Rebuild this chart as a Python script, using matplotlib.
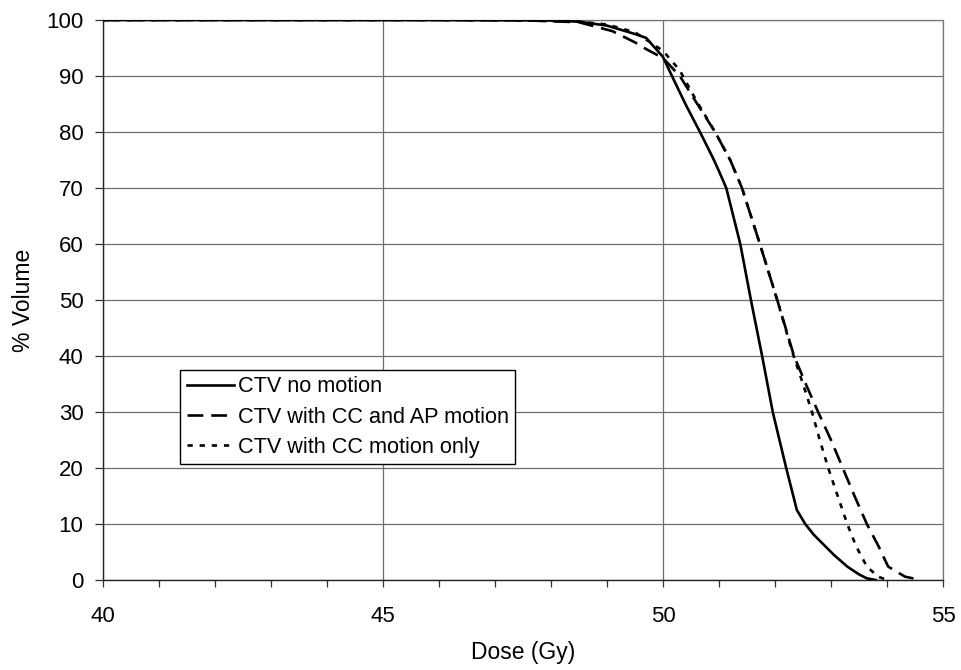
import matplotlib
matplotlib.use("Agg")
import matplotlib.pyplot as plt
from matplotlib.ticker import MultipleLocator

plt.rcParams['font.family'] = ['Liberation Sans', 'DejaVu Sans']

# CTV no motion
dose_a = [40, 46, 47.5, 48.0, 48.5, 49.0, 49.5, 49.7, 50.0, 50.16, 50.4, 50.66, 50.9,
          51.0, 51.13, 51.23, 51.38, 51.57, 51.77, 51.96, 52.08, 52.20, 52.39, 52.54,
          52.7, 52.84, 53.05, 53.29, 53.5, 53.64, 53.8]
vol_a = [100, 100, 99.95, 99.9, 99.7, 99.0, 97.5, 96.8, 93.4, 90, 85, 80, 75.2,
         73, 70, 66, 60, 50, 40, 30, 25, 20, 12.5, 10,
         8, 6.6, 4.5, 2.4, 1, 0.3, 0]

# CTV with CC and AP motion
dose_b = [40, 46, 47.5, 48.5, 49.1, 49.5, 49.7, 50.0, 50.3, 50.6, 50.93, 51.2, 51.41,
          51.73, 52.04, 52.34, 52.55, 52.77, 53.0, 53.21, 53.42, 53.64, 53.85, 54.02,
          54.32, 54.6]
vol_b = [100, 100, 99.95, 99.6, 98, 96, 94.8, 93.2, 90, 85.2, 80, 75, 70,
         60, 50, 40, 35, 30, 25, 20, 15, 10, 6, 2.4,
         0.6, 0]

# CTV with CC motion only
dose_c = [40, 46, 47.5, 48.5, 49.0, 49.5, 50.0, 50.3, 50.6, 50.93, 51.2, 51.41, 51.73,
          52.04, 52.3, 52.5, 52.66, 52.8, 52.95, 53.12, 53.29, 53.45, 53.64, 53.84, 54.0]
vol_c = [100, 100, 99.95, 99.7, 99.2, 97.8, 94.5, 91, 85.5, 80, 75, 70, 60,
         50, 41, 35, 30, 25, 20, 15, 10, 6, 2.4, 0.6, 0]

labels = ["CTV no motion", "CTV with CC and AP motion", "CTV with CC motion only"]

fig = plt.figure(figsize=(9.61, 6.70), dpi=100)
ax = fig.add_axes([103/961, 1 - 580/670, 840/961, 560/670])

lw = 1.9
ax.plot(dose_a, vol_a, color='black', lw=lw, label=labels[0], zorder=3)
ax.plot(dose_b, vol_b, color='black', lw=lw, dashes=(6, 3), label=labels[1], zorder=3)
ax.plot(dose_c, vol_c, color='black', lw=lw, dashes=(2, 2.6), label=labels[2], zorder=3)

ax.set_xlim(40, 55)
ax.set_ylim(0, 100)
ax.xaxis.set_major_locator(MultipleLocator(5))
ax.xaxis.set_minor_locator(MultipleLocator(1))
ax.yaxis.set_major_locator(MultipleLocator(10))

ax.grid(True, which='major', color='#6e6e6e', lw=0.9, zorder=0)
ax.tick_params(axis='both', which='major', labelsize=16, direction='out', color='#333333')
ax.tick_params(axis='y', which='major', length=6, width=0.9, pad=8)
ax.tick_params(axis='x', which='major', length=5, width=0.9, pad=14)
ax.tick_params(axis='x', which='minor', length=5, width=0.9, color='#333333')

for side in ['left', 'bottom']:
    ax.spines[side].set_color('#222222')
    ax.spines[side].set_linewidth(1.0)
for side in ['top', 'right']:
    ax.spines[side].set_color('#777777')
    ax.spines[side].set_linewidth(0.9)

ax.set_xlabel("Dose (Gy)", fontsize=16.5, labelpad=10)
ax.set_ylabel("% Volume", fontsize=16.5, labelpad=8)

leg = ax.legend(loc='upper left', bbox_to_anchor=(0.0917, 0.375), fontsize=15.6,
                frameon=True, fancybox=False, shadow=False, handlelength=2.17,
                handletextpad=0.2, borderpad=0.3, labelspacing=0.42, borderaxespad=0)
leg.get_frame().set_edgecolor('black')
leg.get_frame().set_linewidth(1.0)
leg.get_frame().set_alpha(1)

fig.savefig("out.png", dpi=100)
